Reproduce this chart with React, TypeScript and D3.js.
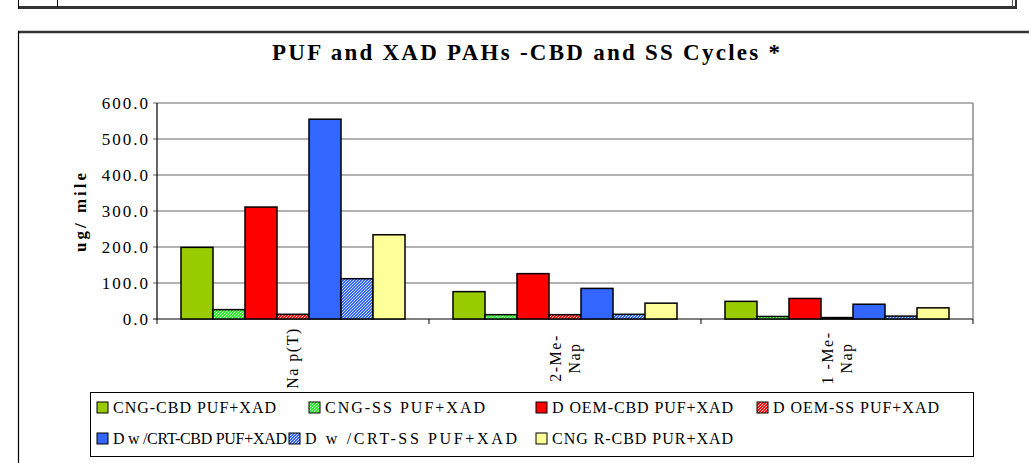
import React from "react";
import * as d3 from "d3";

const categories = ["Na p(T)", "2-Me-\nNap", "1 -Me-\nNap"];
const seriesNames = [
  "CNG-CBD PUF+XAD",
  "CNG-SS PUF+XAD",
  "D OEM-CBD PUF+XAD",
  "D OEM-SS PUF+XAD",
  "D w /CRT-CBD PUF+XAD",
  "D w /CRT-SS PUF+XAD",
  "CNG R-CBD PUR+XAD",
];
const cngCbd = [199, 76, 49];
const cngSs = [26, 12, 7];
const doemCbd = [311, 126, 57];
const doemSs = [13, 12, 4];
const dcrtCbd = [555, 85, 41];
const dcrtSs = [112, 13, 8];
const cngrCbd = [234, 44, 31];
const seriesValues = [cngCbd, cngSs, doemCbd, doemSs, dcrtCbd, dcrtSs, cngrCbd];
const yTicks = [0, 100, 200, 300, 400, 500, 600];

const fills = [
  "#99CC00",
  "url(#hatchGreen)",
  "#FF0000",
  "url(#hatchRed)",
  "#3366FF",
  "url(#hatchBlue)",
  "#FFFF99",
];
// legend layout: text start x, row y (swatch top), text length
const legendTextX = [113, 325, 552, 773, 113, 305, 552];
const legendRowY = [402, 402, 402, 402, 433, 433, 433];
const legendTextLen = [163, 160, 181, 166, 174, 212, 181];

const SERIF = "Liberation Serif";

export default function App() {
  const left = 157, right = 973, top = 103, bottom = 319;
  const x0 = d3.scaleBand<string>().domain(categories).range([left, right]).paddingInner(0).paddingOuter(0);
  const x1 = d3
    .scaleBand<number>()
    .domain(d3.range(seriesNames.length))
    .range([0, x0.bandwidth()])
    .paddingInner(0)
    .paddingOuter(0.75);
  const y = d3.scaleLinear().domain([0, 600]).range([bottom, top]);

  const hatch = (id: string, base: string) => (
    <pattern id={id} patternUnits="userSpaceOnUse" width={3} height={3}>
      <rect width={3} height={3} fill={base} />
      <path d="M-0.5,0.5 l1,-1 M0,3 l3,-3 M2.5,3.5 l1,-1" stroke="#ffffff" strokeWidth={0.8} />
    </pattern>
  );
  const ts = { fontFamily: SERIF };

  return (
    <svg
      width={1029}
      height={463}
      style={{ position: "absolute", left: 0, top: 0, background: "#fff", fontFamily: SERIF }}
    >
      <defs>
        {hatch("hatchGreen", "#22EE22")}
        {hatch("hatchRed", "#FF0000")}
        {hatch("hatchBlue", "#3366FF")}
      </defs>
      {/* top table strip */}
      <line x1={18} x2={1016} y1={7.5} y2={7.5} stroke="#333" strokeWidth={3} />
      <line x1={18.5} x2={18.5} y1={0} y2={9} stroke="#000" strokeWidth={1} />
      <line x1={57.5} x2={57.5} y1={0} y2={7} stroke="#000" strokeWidth={1} />
      <line x1={1012.5} x2={1012.5} y1={0} y2={7} stroke="#555" strokeWidth={1} />
      <line x1={1016} x2={1016} y1={0} y2={9} stroke="#333" strokeWidth={2} />
      {/* chart frame */}
      <line x1={18} x2={1029} y1={32} y2={32} stroke="#333" strokeWidth={2.5} />
      <line x1={18.5} x2={18.5} y1={31} y2={463} stroke="#000" strokeWidth={1.2} />

      {/* title */}
      <text x={272} y={60} fontSize={23} fontWeight="bold" textLength={508} lengthAdjust="spacing" style={ts}>
        PUF and XAD PAHs -CBD and SS Cycles *
      </text>

      {/* gridlines */}
      {yTicks.map((t) => (
        <line key={t} x1={left - 4} x2={right} y1={y(t)} y2={y(t)} stroke={t === 0 ? "#000" : "#666"} strokeWidth={1.2} />
      ))}
      <line x1={right} x2={right} y1={top} y2={bottom} stroke="#888" strokeWidth={1.5} />
      <line x1={left} x2={left} y1={top} y2={bottom} stroke="#000" strokeWidth={1.2} />

      {/* y tick labels */}
      {yTicks.map((t) => (
        <text key={t} x={148 + 2} y={y(t) + 6} textAnchor="end" fontSize={17} letterSpacing={2} style={ts}>
          {t.toFixed(1)}
        </text>
      ))}
      <text
        transform={`translate(86, ${(top + bottom) / 2}) rotate(-90)`}
        textAnchor="middle"
        fontSize={17}
        fontWeight="bold"
        letterSpacing={3}
        style={ts}
      >
        ug/ mile
      </text>

      {/* bars */}
      {categories.map((c, ci) => (
        <g key={c} transform={`translate(${x0(c)},0)`}>
          {seriesValues.map((vals, si) => (
            <rect
              key={si}
              x={x1(si)}
              y={y(vals[ci])}
              width={x1.bandwidth()}
              height={bottom - y(vals[ci])}
              fill={fills[si]}
              stroke="#000"
              strokeWidth={1.5}
            />
          ))}
        </g>
      ))}

      {/* x ticks */}
      {[...categories.map((c) => x0(c) as number), right].map((xv, i) => (
        <line key={i} x1={xv} x2={xv} y1={bottom} y2={bottom + 5} stroke="#000" strokeWidth={1} />
      ))}
      {/* x labels */}
      {categories.map((c) => {
        const lines = c.split("\n");
        const cx = (x0(c) as number) + x0.bandwidth() / 2;
        return lines.map((ln, li) => {
          const bx = cx + (li - (lines.length - 1) / 2) * 19 + 5;
          return (
            <text
              key={c + li}
              transform={`translate(${bx}, 358) rotate(-90)`}
              textAnchor="middle"
              fontSize={16}
              letterSpacing={1.5}
              style={ts}
            >
              {ln}
            </text>
          );
        });
      })}

      {/* legend */}
      <rect x={90.5} y={392.5} width={883} height={64} fill="none" stroke="#000" strokeWidth={1} />
      {seriesNames.map((n, i) => (
        <g key={n}>
          <rect x={legendTextX[i] - 16} y={legendRowY[i]} width={11} height={11} fill={fills[i]} stroke="#000" strokeWidth={1} />
          <text
            x={legendTextX[i]}
            y={legendRowY[i] + 11}
            fontSize={16}
            textLength={legendTextLen[i]}
            lengthAdjust="spacing"
            style={ts}
          >
            {n}
          </text>
        </g>
      ))}
    </svg>
  );
}
